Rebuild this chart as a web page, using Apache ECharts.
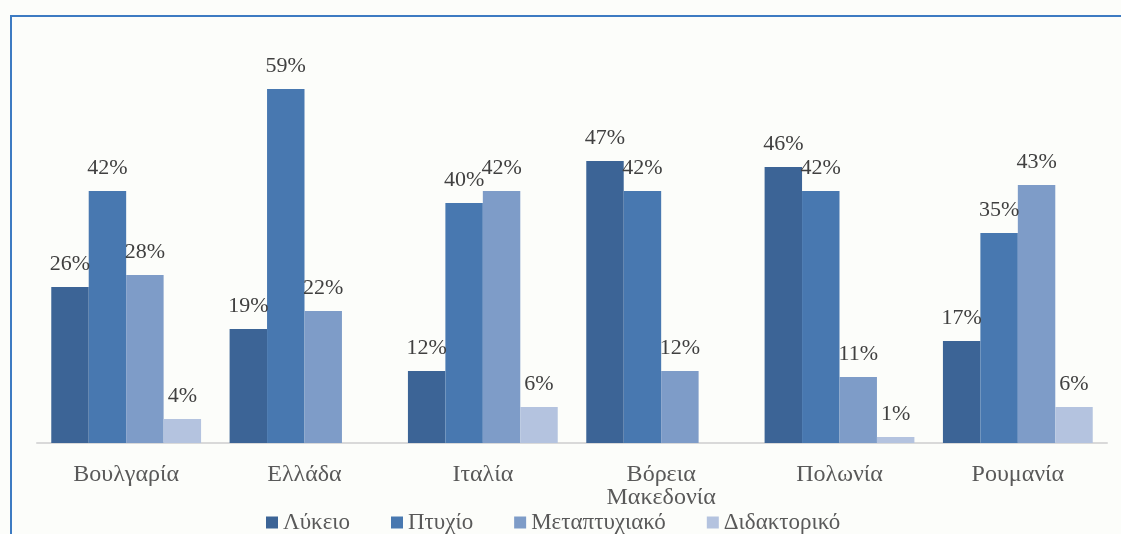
<!DOCTYPE html>
<html>
<head>
<meta charset="utf-8">
<script src="https://cdn.jsdelivr.net/npm/echarts@6/dist/echarts.min.js"></script>
<style>
  html, body { margin: 0; padding: 0; background: #fcfdfa; }
  #frame { position: absolute; left: 10px; top: 15px; width: 1200px; height: 600px;
    border-top: 2px solid #3d7bc2; border-left: 2px solid #3d7bc2; }
  #chart { position: absolute; left: 0; top: 0; width: 1121px; height: 534px; }
</style>
</head>
<body>
<div id="frame"></div>
<div id="chart"></div>
<script>
// χώρες
const categories = ['Βουλγαρία', 'Ελλάδα', 'Ιταλία', 'Βόρεια\nΜακεδονία', 'Πολωνία', 'Ρουμανία']
const lykeio = [26, 19, 12, 47, 46, 17]
const ptyxio = [42, 59, 40, 42, 42, 35]
const metaptyxiako = [28, 22, 42, 12, 11, 43]
const didaktoriko = [4, null, 6, null, 1, 6]

const seriesNames = ['Λύκειο', 'Πτυχίο', 'Μεταπτυχιακό', 'Διδακτορικό']
const seriesData = [lykeio, ptyxio, metaptyxiako, didaktoriko]

const serif = '"Liberation Serif", "DejaVu Serif", serif'

let chart = echarts.init(document.getElementById('chart'))

let series = seriesNames.map((name, i) => ({
  name: name,
  type: 'bar',
  data: seriesData[i],
  barGap: '0%',
  barCategoryGap: '16%',
  label: {
    show: true,
    position: 'top',
    distance: 12,
    formatter: p => p.value + '%',
    color: '#404040',
    fontFamily: serif,
    fontSize: 22
  }
}))

chart.setOption({
  animation: false,
  color: ['#3c6496', '#4878b0', '#7e9cc8', '#b4c3df'],
  legend: {
    top: 506,
    left: 261,
    itemWidth: 12,
    itemHeight: 12,
    itemGap: 41,
    icon: 'rect',
    textStyle: { color: '#595959', fontFamily: serif, fontSize: 23 }
  },
  grid: { left: 37, right: 14, top: 23, bottom: 91 },
  xAxis: {
    type: 'category',
    data: categories,
    axisLine: { lineStyle: { color: '#d9d9d9', width: 2 } },
    axisTick: { show: false },
    axisLabel: {
      color: '#595959',
      fontFamily: serif,
      fontSize: 24,
      margin: 20,
      lineHeight: 23
    }
  },
  yAxis: {
    type: 'value',
    min: 0,
    max: 70,
    show: false,
    splitLine: { show: false }
  },
  series: series
})
</script>
</body>
</html>
